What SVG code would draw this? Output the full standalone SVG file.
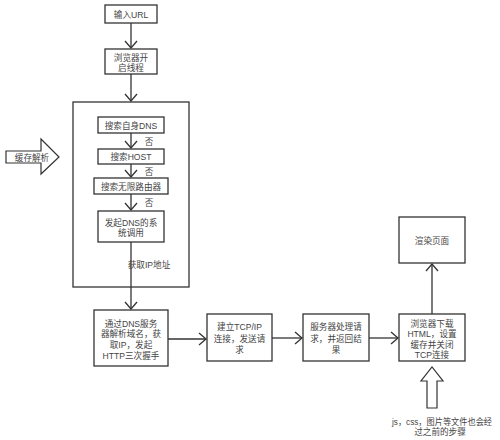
<svg xmlns="http://www.w3.org/2000/svg" width="500" height="440" viewBox="0 0 500 440">
<defs>
<style>
.box{fill:#fff;stroke:#333;stroke-width:1.3}
.grp{fill:none;stroke:#333;stroke-width:1.3}
.ln{fill:none;stroke:#333;stroke-width:1.3;marker-end:url(#ah)}
.t{font-family:"Liberation Sans","Noto Sans CJK SC",sans-serif;font-size:8.6px;fill:#444;text-anchor:middle}
.hol{fill:#fff;stroke:#333;stroke-width:1.2}
</style>
<marker id="ah" markerUnits="userSpaceOnUse" markerWidth="16" markerHeight="16" refX="8" refY="8" orient="auto" overflow="visible">
<path d="M1,2 L8,8 L1,14" fill="none" stroke="#333" stroke-width="1.3"/>
</marker>
</defs>
<rect width="500" height="440" fill="#fff"/>
<g id="dns-group"><rect class="grp" x="73" y="102" width="116" height="185"/></g>
<g id="connectors">
<line class="ln" x1="131" y1="23" x2="131" y2="48"/>
<line class="ln" x1="131" y1="74" x2="131" y2="101"/>
<line class="ln" x1="131" y1="133" x2="131" y2="148"/>
<line class="ln" x1="131" y1="164" x2="131" y2="177"/>
<line class="ln" x1="131" y1="194" x2="131" y2="210"/>
<line class="ln" x1="131" y1="242" x2="131" y2="309"/>
<line class="ln" x1="168" y1="339" x2="206" y2="339"/>
<line class="ln" x1="272" y1="338" x2="302" y2="338"/>
<line class="ln" x1="369" y1="338" x2="398" y2="338"/>
<line class="ln" x1="432" y1="314" x2="432" y2="264"/>
<text class="t" x="149" y="144.5">否</text>
<text class="t" x="149" y="174.5">否</text>
<text class="t" x="149" y="205.5">否</text>
<text class="t" x="149" y="267.5">获取IP地址</text>
</g>
<g id="n-url"><rect class="box" x="105" y="5" width="52" height="18"/><text class="t" x="131" y="17.5">输入URL</text></g>
<g id="n-thread"><rect class="box" x="105" y="49" width="52" height="25"/><text class="t" x="131" y="60.5">浏览器开</text><text class="t" x="131" y="70.5">启线程</text></g>
<g id="n-selfdns"><rect class="box" x="98" y="117" width="66" height="16"/><text class="t" x="131" y="128.5">搜索自身DNS</text></g>
<g id="n-host"><rect class="box" x="98" y="149" width="66" height="15"/><text class="t" x="131" y="160">搜索HOST</text></g>
<g id="n-router"><rect class="box" x="94" y="178" width="74" height="16"/><text class="t" x="131" y="189.5">搜索无限路由器</text></g>
<g id="n-syscall"><rect class="box" x="98" y="211" width="66" height="31"/><text class="t" x="131" y="225.5">发起DNS的系</text><text class="t" x="131" y="235.5">统调用</text></g>
<g id="n-cache"><path class="hol" d="M6,151 H41 V139 L59,157 L41,174 V163 H6 Z"/><text class="t" x="32" y="160.5">缓存解析</text></g>
<g id="n-resolve"><rect class="box" x="94" y="310" width="74" height="56"/><text class="t" x="131" y="326.5">通过DNS服务</text><text class="t" x="131" y="336.5">器解析域名，获</text><text class="t" x="131" y="347.5">取IP，发起</text><text class="t" x="131" y="358.5">HTTP三次握手</text></g>
<g id="n-tcp"><rect class="box" x="207" y="314" width="65" height="47"/><text class="t" x="239.5" y="329.5">建立TCP/IP</text><text class="t" x="239.5" y="341.5">连接，发送请</text><text class="t" x="239.5" y="352.5">求</text></g>
<g id="n-server"><rect class="box" x="303" y="314" width="66" height="47"/><text class="t" x="336" y="329.5">服务器处理请</text><text class="t" x="336" y="341.5">求，并返回结</text><text class="t" x="336" y="352.5">果</text></g>
<g id="n-download"><rect class="box" x="399" y="314" width="66" height="47"/><text class="t" x="432" y="326.5">浏览器下载</text><text class="t" x="432" y="336.5">HTML，设置</text><text class="t" x="432" y="347.5">缓存并关闭</text><text class="t" x="432" y="357.5">TCP连接</text></g>
<g id="n-render"><rect class="box" x="399" y="217" width="66" height="46"/><text class="t" x="432" y="243.5">渲染页面</text></g>
<g id="n-assets"><path class="hol" d="M427,408 V381 H421 L432,367 L443,381 H437 V408 Z"/><text class="t" x="442" y="424.5" textLength="100" lengthAdjust="spacingAndGlyphs">js，css，图片等文件也会经</text><text class="t" x="440" y="434.5">过之前的步骤</text></g>
</svg>
